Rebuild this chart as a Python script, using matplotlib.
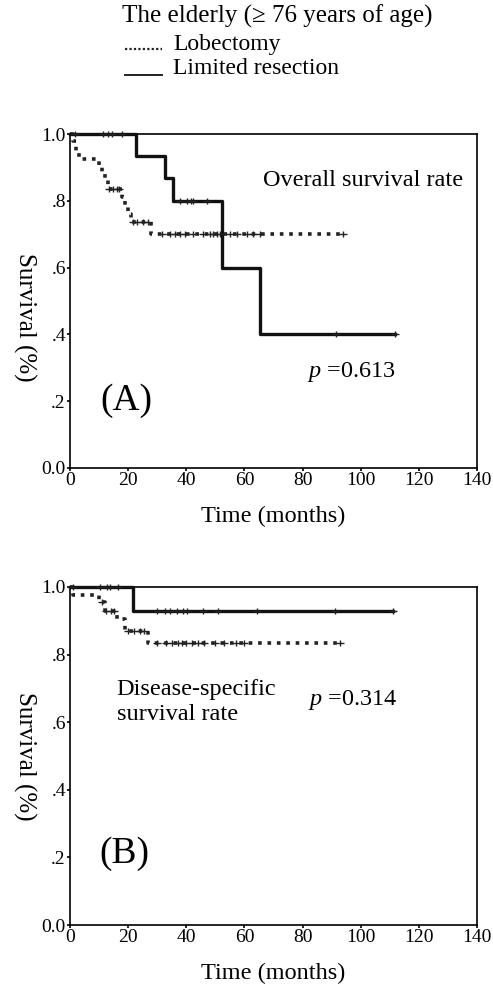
import numpy as np
import matplotlib
matplotlib.use('Agg')
import matplotlib.pyplot as plt
from matplotlib.lines import Line2D

plt.rcParams['font.family'] = ['Liberation Serif', 'DejaVu Serif']
plt.rcParams['mathtext.fontset'] = 'custom'
plt.rcParams['mathtext.rm'] = 'Liberation Serif'
plt.rcParams['mathtext.it'] = 'Liberation Serif:italic'

# panel A: overall survival
lim_a_t = [0, 22.7, 32.7, 35.5, 52.4, 65.4, 111.8]
lim_a_s = [1.0, 0.933, 0.867, 0.80, 0.60, 0.40, 0.40]
lim_a_cens = [1.7, 11.4, 13.1, 14.4, 17.9, 37.8, 40.2, 41.6, 42.3, 47.1, 91.5, 111.8]

lob_a_t = [0, 1, 2, 3, 10, 11, 12, 13, 18, 19, 20, 21, 28, 94]
lob_a_s = [1.0, 0.98, 0.95, 0.925, 0.905, 0.885, 0.865, 0.835, 0.81, 0.785, 0.76, 0.737, 0.70, 0.70]
lob_a_cens = [13.5, 14.8, 16, 16.8, 21.5, 23, 25, 26.8, 31.6, 34.4, 36.1, 37.8, 39.6, 42.3,
              45.8, 48.2, 49.2, 50.6, 51.6, 55.0, 57.5, 60.9, 63.0, 65.4, 94]

# panel B: disease-specific survival
lim_b_t = [0, 21.7, 111.1]
lim_b_s = [1.0, 0.929, 0.929]
lim_b_cens = [1, 10.3, 12.7, 13.8, 16.5, 30, 32.7, 34.4, 36.8, 38.9, 40.2, 45.8, 50.9, 64.3, 91.2, 111.1]

lob_b_t = [0, 1, 10, 12, 16, 19, 27, 93]
lob_b_s = [1.0, 0.975, 0.955, 0.93, 0.905, 0.87, 0.835, 0.835]
lob_b_cens = [11, 12.5, 14, 15, 20, 22, 24, 25.5, 30, 33, 35, 37, 38.5, 40, 42, 44, 46, 50,
              53, 57, 60, 93]

x_ticks = [0, 20, 40, 60, 80, 100, 120, 140]
y_ticks = [0.0, 0.2, 0.4, 0.6, 0.8, 1.0]
y_labels = ['0.0', '.2', '.4', '.6', '.8', '1.0']

fig = plt.figure(figsize=(4.93, 9.89), dpi=100)
ax_a = fig.add_axes([0.142, 0.527, 0.8255, 0.3375])
ax_b = fig.add_axes([0.142, 0.0647, 0.8255, 0.3418])


def step_at(t, s, x):
    i = np.searchsorted(t, x, side='right') - 1
    return np.asarray(s)[i]


def draw_km(ax, t, s, cens, dotted):
    if dotted:
        ax.step(t, s, where='post', color='#222', lw=2.6,
                linestyle=(0, (1.0, 1.6)), clip_on=False, zorder=3)
    else:
        ax.step(t, s, where='post', color='#111', lw=2.4, clip_on=False, zorder=4)
    ax.plot(cens, step_at(t, s, cens), linestyle='none', marker='|', ms=5,
            mew=1.0, color='#222', clip_on=False, zorder=5)
    ax.plot(cens, step_at(t, s, cens), linestyle='none', marker='_', ms=6,
            mew=1.0, color='#222', clip_on=False, zorder=5)


def style(ax):
    ax.set_xlim(0, 140)
    ax.set_ylim(0, 1.0)
    ax.set_xticks(x_ticks)
    ax.set_yticks(y_ticks)
    ax.set_yticklabels(y_labels)
    ax.tick_params(direction='out', length=2, width=1.2, labelsize=14, pad=1)
    for sp in ax.spines.values():
        sp.set_linewidth(1.2)
    ax.set_xlabel('Time (months)', fontsize=17.5, labelpad=12)
    ax.set_ylabel('Survival (%)', fontsize=18, rotation=270, labelpad=22)


draw_km(ax_a, lob_a_t, lob_a_s, lob_a_cens, True)
draw_km(ax_a, lim_a_t, lim_a_s, lim_a_cens, False)
style(ax_a)
ax_a.yaxis.set_label_coords(-0.14, 0.45)
ax_a.text(66.4, 0.862, 'Overall survival rate', fontsize=17.5, va='center', ha='left')
ax_a.text(81.5, 0.287, '$p$ =0.613', fontsize=17.5, va='center', ha='left')
ax_a.text(10.5, 0.20, '(A)', fontsize=27, va='center', ha='left')

draw_km(ax_b, lob_b_t, lob_b_s, lob_b_cens, True)
draw_km(ax_b, lim_b_t, lim_b_s, lim_b_cens, False)
style(ax_b)
ax_b.yaxis.set_label_coords(-0.14, 0.5)
ax_b.text(16, 0.66, 'Disease-specific\nsurvival rate', fontsize=17.5, va='center',
          ha='left', linespacing=1.25)
ax_b.text(82, 0.666, '$p$ =0.314', fontsize=17.5, va='center', ha='left')
ax_b.text(10, 0.21, '(B)', fontsize=27, va='center', ha='left')

# header and legend
fig.text(0.2475, 0.9835, 'The elderly (\u2265 76 years of age)', fontsize=18, va='center', ha='left')
fig.text(0.351, 0.9555, 'Lobectomy', fontsize=17, va='center', ha='left')
fig.text(0.351, 0.931, 'Limited resection', fontsize=17, va='center', ha='left')
fig.add_artist(Line2D([0.254, 0.328], [0.9505, 0.9505], color='#222', lw=1.6,
                      linestyle=(0, (1, 1))))
fig.add_artist(Line2D([0.254, 0.328], [0.9245, 0.9245], color='#222', lw=1.4))

fig.savefig('out.png', dpi=100)
